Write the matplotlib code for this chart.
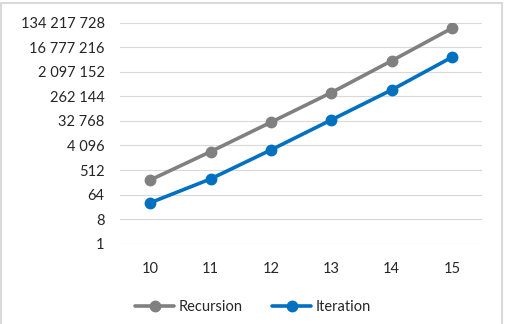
import matplotlib
matplotlib.use('Agg')
import matplotlib.pyplot as plt
from matplotlib.ticker import FixedLocator, FuncFormatter, NullLocator
from matplotlib.patches import Rectangle

# datos (escala log base 8)
n_values = [10, 11, 12, 13, 14, 15]
recursion = [220, 2420, 29200, 358000, 5300000, 83800000]
iteration = [32, 240, 2800, 35500, 450000, 7200000]
y_ticks = [1, 8, 64, 512, 4096, 32768, 262144, 2097152, 16777216, 134217728]

plt.rcParams['font.family'] = ['Lato', 'DejaVu Sans']

fig = plt.figure(figsize=(5.06, 3.24), dpi=100)
ax = fig.add_axes([120 / 506, 1 - 243.7 / 324, 362 / 506, 221 / 324])

ax.plot(n_values, recursion, color='#808080', lw=2.6, marker='o', ms=7.5,
        label='Recursion', solid_capstyle='round')
ax.plot(n_values, iteration, color='#0070C0', lw=2.6, marker='o', ms=7.5,
        label='Iteration', solid_capstyle='round')

ax.set_yscale('log', base=8)
ax.set_ylim(1, 134217728)
ax.set_xlim(9.5, 15.5)
ax.yaxis.set_major_locator(FixedLocator(y_ticks))
ax.yaxis.set_minor_locator(NullLocator())
ax.yaxis.set_major_formatter(FuncFormatter(lambda v, p: f"{int(round(v)):,}".replace(',', ' ')))
ax.set_xticks(n_values)

ax.grid(axis='y', color='#d9d9d9', lw=0.8)
ax.set_axisbelow(True)
for s in ax.spines.values():
    s.set_visible(False)
ax.tick_params(axis='both', length=0, labelsize=10.5, colors='#262626')
ax.tick_params(axis='y', pad=11)
ax.tick_params(axis='x', pad=13)

fig.legend(loc='center', bbox_to_anchor=(0.5, 1 - 306.7 / 324), ncol=2,
           frameon=False, fontsize=10.5, handlelength=2.7, columnspacing=2.0,
           handletextpad=0.3, labelcolor='#262626')

fig.patches.append(Rectangle((0.002, -0.01), 0.99, 1.0, transform=fig.transFigure,
                             fill=False, edgecolor='#d9d9d9', lw=1.5))

fig.savefig('out.png', dpi=100)
plt.close(fig)
